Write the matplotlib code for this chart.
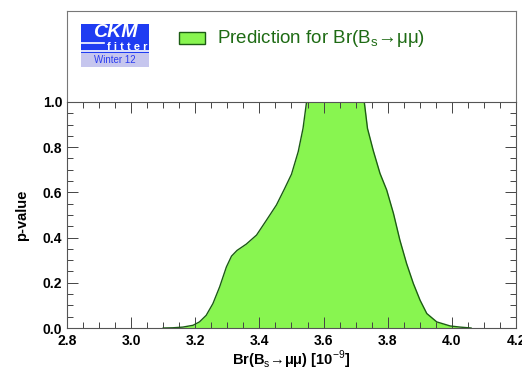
import matplotlib
matplotlib.use('Agg')
import matplotlib.pyplot as plt
from matplotlib.ticker import MultipleLocator
from matplotlib.patches import Rectangle

plt.rcParams['font.family'] = ['Liberation Sans', 'DejaVu Sans']
plt.rcParams['mathtext.fontset'] = 'custom'
plt.rcParams['mathtext.rm'] = 'Liberation Sans'
plt.rcParams['mathtext.bf'] = 'Liberation Sans:bold'

# p-value scan
br = [3.10, 3.13, 3.161, 3.193, 3.213, 3.234, 3.255, 3.276, 3.297, 3.313, 3.330,
      3.359, 3.391, 3.422, 3.453, 3.478, 3.500, 3.521, 3.536, 3.547,
      3.60, 3.65, 3.70,
      3.727, 3.737, 3.755, 3.776, 3.797, 3.818, 3.838, 3.859, 3.880, 3.901,
      3.922, 3.953, 3.995, 4.026, 4.06]
pval = [0.0, 0.001, 0.004, 0.012, 0.027, 0.056, 0.108, 0.182, 0.270, 0.318, 0.343,
        0.371, 0.411, 0.477, 0.544, 0.615, 0.680, 0.780, 0.883, 1.0,
        1.0, 1.0, 1.0,
        1.0, 0.883, 0.785, 0.684, 0.610, 0.507, 0.389, 0.285, 0.197, 0.123,
        0.064, 0.027, 0.009, 0.004, 0.0]

green = '#88f550'
dark = '#1c5c14'

fig = plt.figure(figsize=(5.22, 3.70), dpi=100)

# header box
hx = fig.add_axes([0.1284, 0.7243, 0.860, 0.246])
hx.set_xlim(0, 1)
hx.set_ylim(0, 1)
hx.set_xticks([])
hx.set_yticks([])
for s in hx.spines.values():
    s.set_color('#777777')
hx.spines['bottom'].set_visible(False)

# CKMfitter logo
hx.add_patch(Rectangle((0.031, 0.538), 0.152, 0.319, transform=hx.transAxes,
                       facecolor='#1f3cf2', edgecolor='none'))
hx.add_patch(Rectangle((0.031, 0.385), 0.152, 0.153, transform=hx.transAxes,
                       facecolor='#c6c6ee', edgecolor='none'))
hx.text(0.107, 0.765, 'CKM', transform=hx.transAxes, color='white', fontsize=14,
        style='italic', weight='bold', ha='center', va='center')
hx.text(0.179, 0.600, 'f i t t e r', transform=hx.transAxes, color='white', fontsize=8,
        weight='bold', ha='right', va='center')
hx.plot([0.031, 0.082], [0.648, 0.648], transform=hx.transAxes, color='white', lw=1.2)
hx.plot([0.031, 0.183], [0.556, 0.556], transform=hx.transAxes, color='white', lw=1.2)
hx.text(0.107, 0.462, 'Winter 12', transform=hx.transAxes, color='#2a3cf0', fontsize=7,
        ha='center', va='center')

# legend entry
hx.add_patch(Rectangle((0.249, 0.637), 0.058, 0.132, transform=hx.transAxes,
                       facecolor=green, edgecolor=dark, lw=1))
hx.text(0.334, 0.703, 'Prediction for Br(B$_\\mathrm{s}$\u2192\u03bc\u03bc)', transform=hx.transAxes,
        color='#1e6b14', fontsize=13.5, ha='left', va='center')

# main plot
ax = fig.add_axes([0.1284, 0.1135, 0.860, 0.611])
ax.fill_between(br, pval, 0, color=green, lw=0)
ax.plot(br, pval, color=dark, lw=1)
ax.set_xlim(2.8, 4.2)
ax.set_ylim(0, 1)
ax.xaxis.set_major_locator(MultipleLocator(0.2))
ax.xaxis.set_minor_locator(MultipleLocator(0.05))
ax.yaxis.set_major_locator(MultipleLocator(0.2))
ax.yaxis.set_minor_locator(MultipleLocator(0.05))
ax.tick_params(which='both', direction='in', top=True, right=True, color='#444444')
ax.tick_params(which='major', length=8, width=0.7)
ax.tick_params(which='minor', length=4, width=0.7)
ax.tick_params(axis='x', pad=4)
for s in ax.spines.values():
    s.set_color('#555555')
ax.set_xticklabels([f'{v:.1f}' for v in ax.get_xticks()], weight='bold', fontsize=10)
ax.set_yticklabels([f'{v:.1f}' for v in ax.get_yticks()], weight='bold', fontsize=10)
ax.set_xlabel('Br(B$_\\mathrm{s}$\u2192\u03bc\u03bc) [10$^{\\mathrm{-9}}$]', weight='bold',
              fontsize=10.5)
ax.xaxis.set_label_coords(0.5, -0.092)
ax.set_ylabel('p-value', weight='bold', fontsize=10.5, labelpad=10)

fig.savefig('out.png', dpi=100)
